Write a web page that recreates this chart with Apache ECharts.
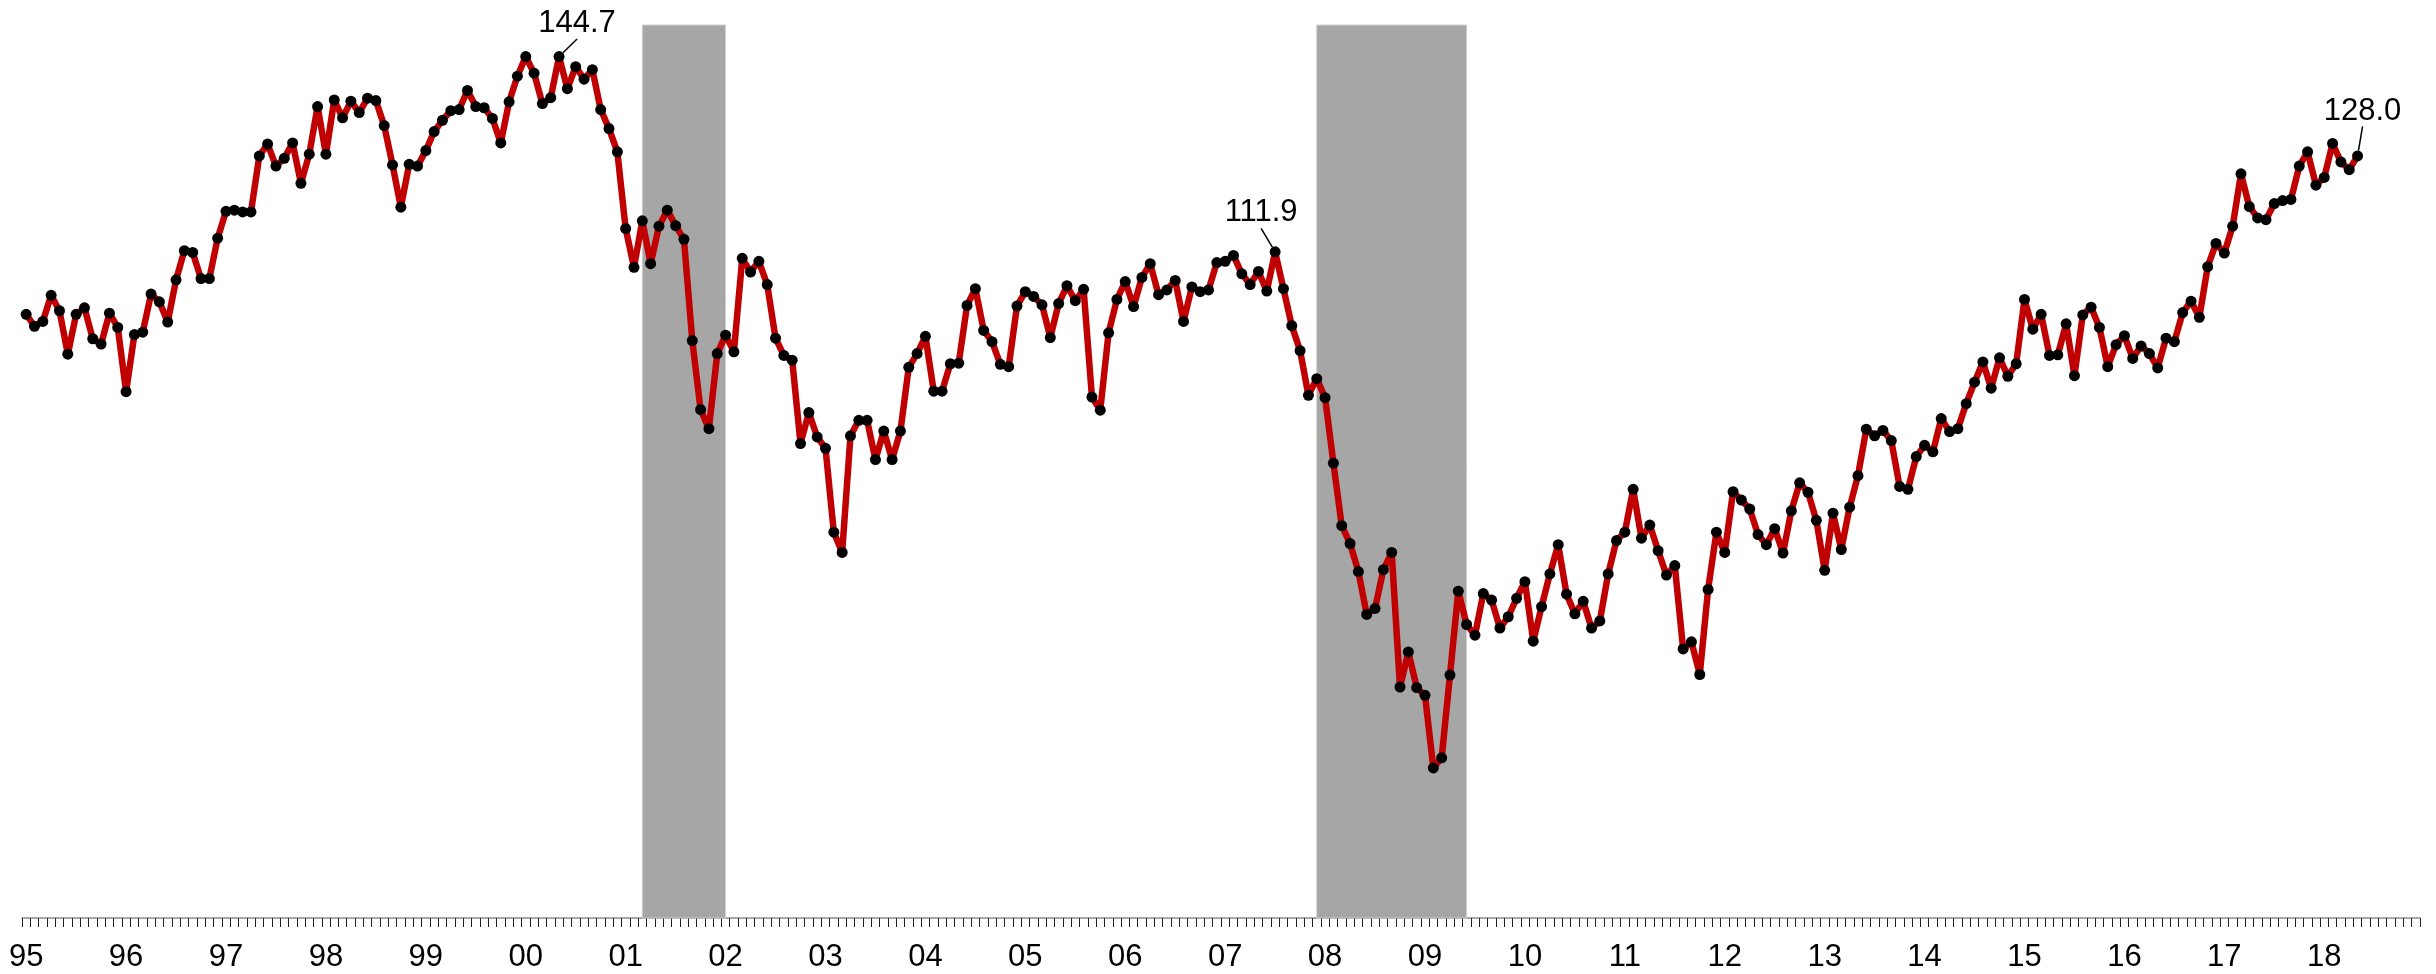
<!DOCTYPE html>
<html>
<head>
<meta charset="utf-8">
<title>Consumer Confidence Index</title>
<script src="https://cdn.jsdelivr.net/npm/echarts@6.0.0/dist/echarts.min.js"></script>
<style>
  html, body { margin: 0; padding: 0; background: #fff; }
  #chart { width: 2436px; height: 974px; }
</style>
</head>
<body>
<div id="chart"></div>
<script>
// monthly index, Jan 1995 .. May 2018
var startYear = 1995;
var endYear = 2018;

var values1995 = [101.4, 99.4, 100.2, 104.6, 102.0, 94.7, 101.4, 102.5, 97.3, 96.4, 101.6, 99.2];
var values1996 = [88.4, 98.0, 98.4, 104.8, 103.5, 100.1, 107.2, 112.1, 111.8, 107.4, 107.4, 114.2];
var values1997 = [118.7, 118.9, 118.6, 118.6, 128.0, 130.0, 126.3, 127.6, 130.2, 123.4, 128.3, 136.3];
var values1998 = [128.3, 137.4, 134.4, 137.2, 135.3, 137.7, 137.3, 133.1, 126.5, 119.4, 126.6, 126.3];
var values1999 = [128.9, 132.1, 134.0, 135.6, 135.8, 139.0, 136.3, 136.1, 134.3, 130.2, 137.1, 141.4];
var values2000 = [144.7, 141.9, 136.8, 137.8, 144.7, 139.3, 143.0, 140.9, 142.5, 135.8, 132.6, 128.7];
var values2001 = [115.8, 109.3, 117.1, 109.9, 116.2, 118.9, 116.3, 114.0, 97.0, 85.4, 82.2, 94.8];
var values2002 = [97.9, 95.1, 110.8, 108.5, 110.3, 106.4, 97.4, 94.5, 93.7, 79.7, 84.9, 80.8];
var values2003 = [78.9, 64.8, 61.4, 81.0, 83.6, 83.6, 77.0, 81.8, 77.0, 81.8, 92.5, 94.8];
var values2004 = [97.7, 88.5, 88.5, 93.1, 93.2, 102.9, 105.7, 98.7, 96.8, 93.0, 92.6, 102.8];
var values2005 = [105.2, 104.4, 103.0, 97.5, 103.2, 106.2, 103.7, 105.6, 87.5, 85.3, 98.3, 103.9];
var values2006 = [106.9, 102.7, 107.6, 109.9, 104.7, 105.5, 107.1, 100.2, 106.0, 105.2, 105.5, 110.1];
var values2007 = [110.3, 111.3, 108.2, 106.4, 108.6, 105.3, 111.9, 105.7, 99.5, 95.3, 87.8, 90.6];
var values2008 = [87.4, 76.4, 65.9, 62.9, 58.2, 51.0, 52.0, 58.5, 61.4, 38.8, 44.7, 38.7];
var values2009 = [37.4, 25.2, 26.9, 40.8, 54.9, 49.3, 47.5, 54.5, 53.4, 48.7, 50.6, 53.7];
var values2010 = [56.5, 46.5, 52.3, 57.8, 62.7, 54.4, 51.1, 53.2, 48.7, 49.9, 57.8, 63.4];
var values2011 = [64.8, 72.0, 63.8, 66.0, 61.7, 57.6, 59.2, 45.2, 46.4, 40.9, 55.2, 64.8];
var values2012 = [61.4, 71.6, 70.2, 68.7, 64.4, 62.7, 65.4, 61.3, 68.4, 73.1, 71.5, 66.8];
var values2013 = [58.4, 68.0, 61.9, 69.0, 74.3, 82.1, 81.0, 81.9, 80.2, 72.5, 72.0, 77.5];
var values2014 = [79.4, 78.3, 83.9, 81.7, 82.2, 86.4, 90.0, 93.4, 89.0, 94.1, 91.0, 93.1];
var values2015 = [103.9, 98.9, 101.4, 94.5, 94.6, 99.8, 91.1, 101.3, 102.6, 99.2, 92.6, 96.3];
var values2016 = [97.8, 94.0, 96.1, 94.8, 92.4, 97.4, 96.8, 101.7, 103.6, 100.9, 109.4, 113.3];
var values2017 = [111.7, 116.2, 125.0, 119.5, 117.6, 117.3, 120.0, 120.5, 120.7, 126.3, 128.7, 123.1];
var values2018 = [124.4, 130.1, 127.0, 125.7, 128.0];

// recession bands (first month, last month)
var recessions = [
  ['2001-03', '2002-01'],
  ['2007-12', '2009-06']
];

// points that carry a value callout
var calloutMonths = ['2000-05', '2007-07', '2018-05'];

(function() {
  var ink = '#000000';
  var lineRed = '#c00000';
  var shade = '#a6a6a6';
  var fontFamily = '"Liberation Sans", Arial, sans-serif';

  var values = [].concat(
    values1995, values1996, values1997, values1998, values1999, values2000,
    values2001, values2002, values2003, values2004, values2005, values2006,
    values2007, values2008, values2009, values2010, values2011, values2012,
    values2013, values2014, values2015, values2016, values2017, values2018
  );

  // month categories for the whole axis span
  var months = [];
  for (var y = startYear; y <= endYear; y++) {
    for (var m = 1; m <= 12; m++) {
      months.push(y + '-' + (m < 10 ? '0' + m : m));
    }
  }

  // label nudges (px) for the callouts, keyed by month
  var calloutOffsets = {
    '2000-05': [18, -33],
    '2007-07': [-14, -39],
    '2018-05': [5, -45]
  };

  var lineData = values.map(function(v, i) {
    if (calloutMonths.indexOf(months[i]) < 0) return v;
    return {
      value: v,
      label: { show: true },
      labelLine: { show: true }
    };
  });

  var chart = echarts.init(document.getElementById('chart'), null, { renderer: 'canvas' });
  chart.setOption({
    animation: false,
    grid: { left: 22, right: 16, top: 25, bottom: 56, outerBoundsMode: 'none' },
    xAxis: {
      type: 'category',
      data: months,
      boundaryGap: true,
      axisLine: { lineStyle: { color: '#8c8c8c', width: 1.5 } },
      axisTick: { show: true, interval: 0, length: 9, lineStyle: { color: '#222222', width: 1 } },
      axisLabel: {
        interval: 0,
        margin: 24,
        color: ink,
        fontSize: 31,
        fontFamily: fontFamily,
        formatter: function(val) {
          return val.slice(5) === '01' ? val.slice(2, 4) : '';
        }
      },
      splitLine: { show: false }
    },
    yAxis: {
      type: 'value',
      min: 0,
      max: 150,
      show: false
    },
    series: [
      {
        // recession shading only
        type: 'line',
        data: [],
        z: 1,
        silent: true,
        markArea: {
          silent: true,
          itemStyle: { color: shade, borderColor: '#cfcfcf', borderWidth: 1 },
          data: recessions.map(function(r) {
            return [{ xAxis: r[0] }, { xAxis: r[1] }];
          })
        }
      },
      {
        type: 'line',
        z: 3,
        data: lineData,
        showSymbol: true,
        showAllSymbol: true,
        symbol: 'circle',
        symbolSize: 11,
        itemStyle: { color: ink },
        lineStyle: { color: lineRed, width: 6.5 },
        emphasis: { disabled: true },
        label: {
          show: false,
          position: 'inside',
          color: ink,
          fontSize: 31,
          fontFamily: fontFamily,
          padding: [0, 0, 6, 0],
          formatter: function(p) { return p.value.toFixed(1); }
        },
        labelLine: { show: false, lineStyle: { color: ink, width: 1.5 } },
        labelLayout: function(p) {
          var off = calloutOffsets[months[p.dataIndex]];
          return off ? { dx: off[0], dy: off[1] } : {};
        }
      }
    ]
  });
  window.addEventListener('resize', function() { chart.resize(); });
})();
</script>
</body>
</html>
